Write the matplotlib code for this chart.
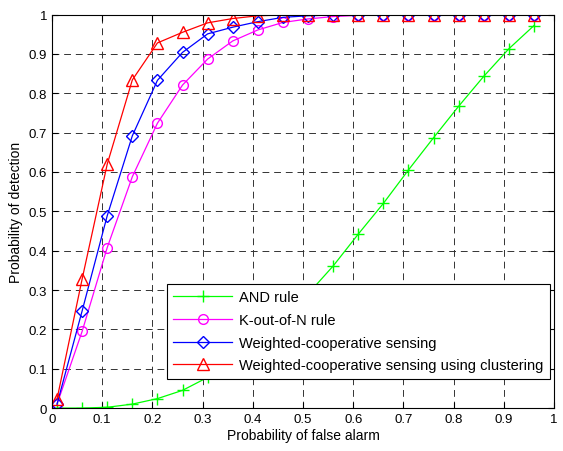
import numpy as np
import matplotlib
matplotlib.use("Agg")
import matplotlib.pyplot as plt

plt.rcParams['font.family'] = ['Liberation Sans', 'DejaVu Sans']

# false alarm probabilities
pfa = [0.01, 0.06, 0.11, 0.16, 0.21, 0.26, 0.31, 0.36, 0.41, 0.46,
       0.51, 0.56, 0.61, 0.66, 0.71, 0.76, 0.81, 0.86, 0.91, 0.96]

and_rule = [0.0, 0.0, 0.002, 0.01, 0.024, 0.045, 0.078, 0.12, 0.17, 0.23,
            0.29, 0.361, 0.442, 0.52, 0.605, 0.687, 0.767, 0.843, 0.913, 0.972]
k_out_of_n = [0.01, 0.195, 0.408, 0.588, 0.724, 0.821, 0.887, 0.933, 0.961, 0.98,
              0.989, 0.995, 0.998, 0.999, 1.0, 1.0, 1.0, 1.0, 1.0, 1.0]
weighted = [0.01, 0.247, 0.489, 0.692, 0.833, 0.904, 0.951, 0.968, 0.982, 0.993,
            0.997, 0.999, 1.0, 1.0, 1.0, 1.0, 1.0, 1.0, 1.0, 1.0]
weighted_clust = [0.023, 0.328, 0.62, 0.834, 0.928, 0.955, 0.979, 0.99, 0.997, 0.999,
                  1.0, 1.0, 1.0, 1.0, 1.0, 1.0, 1.0, 1.0, 1.0, 1.0]

fig = plt.figure(figsize=(5.63, 4.52), dpi=100)
ax = fig.add_axes([0.0924, 0.095, 0.8916, 0.8705])

ax.plot(pfa, and_rule, color='#00ff00', marker='+', markersize=8, linewidth=0.9,
        label='AND rule')
ax.plot(pfa, k_out_of_n, color='#ff00ff', marker='o', markersize=7, linewidth=0.9,
        markerfacecolor='none', label='K-out-of-N rule')
ax.plot(pfa, weighted, color='#0000ff', marker='D', markersize=6, linewidth=0.9,
        markerfacecolor='none', label='Weighted-cooperative sensing')
ax.plot(pfa, weighted_clust, color='#ff0000', marker='^', markersize=8, linewidth=0.9,
        markerfacecolor='none', label='Weighted-cooperative sensing using clustering')

ax.set_xlim(0, 1)
ax.set_ylim(0, 1)
ticks = np.round(np.arange(0, 1.01, 0.1), 1)
labels = ['0' if t == 0 else ('1' if t == 1 else f'{t:g}') for t in ticks]
ax.set_xticks(ticks)
ax.set_xticklabels(labels)
ax.set_yticks(ticks)
ax.set_yticklabels(labels)
ax.tick_params(direction='in', top=True, right=True, labelsize=9.5, length=4)
ax.grid(True, color='#333333', linestyle=(0, (7, 5)), linewidth=0.7)

for sp in ax.spines.values():
    sp.set_linewidth(0.8)

ax.set_xlabel('Probability of false alarm', fontsize=10, labelpad=2)
ax.set_ylabel('Probability of detection', fontsize=10, labelpad=4)

leg = ax.legend(loc='lower right', bbox_to_anchor=(0.992, 0.074), fontsize=10.5,
                fancybox=False, framealpha=1, edgecolor='black',
                handlelength=4.0, handletextpad=0.5, borderpad=0.45,
                labelspacing=0.6, borderaxespad=0)
leg.get_frame().set_linewidth(0.8)

fig.savefig('out.png', dpi=100)
